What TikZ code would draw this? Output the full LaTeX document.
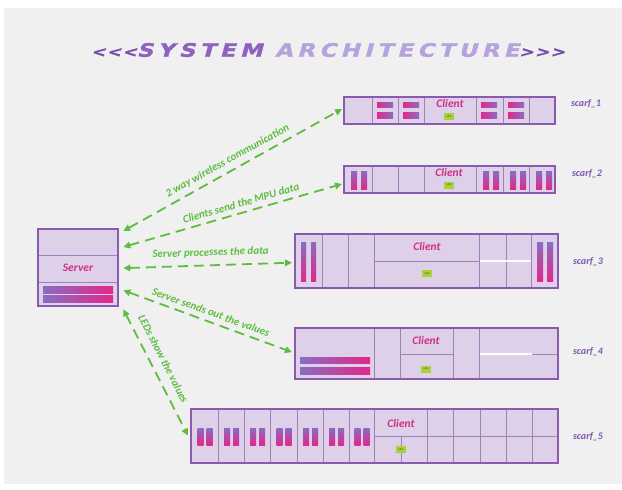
\documentclass[tikz,border=0pt]{standalone}
\usepackage{fontspec}
\usepackage{graphicx}
\setmainfont{Carlito}
\newfontfamily\titlefont[LetterSpace=20,FakeBold=1.6,FakeSlant=0.22]{DejaVu Sans Bold}
\usetikzlibrary{arrows.meta,calc}

\definecolor{bgGray}{HTML}{F0F0F0}
\definecolor{boxFill}{HTML}{DED0E8}
\definecolor{boxLine}{HTML}{8A5AAE}
\definecolor{divLine}{HTML}{9C82B9}
\definecolor{barPurple}{HTML}{8A6CC2}
\definecolor{barPink}{HTML}{E2288C}
\definecolor{nameMagenta}{HTML}{D0308A}
\definecolor{linkGreen}{HTML}{5EBD40}
\definecolor{chipGreen}{HTML}{A8D13A}
\definecolor{chipText}{HTML}{4E6418}
\definecolor{scarfText}{HTML}{7B5AAE}
\definecolor{chevron}{HTML}{7A4FB0}
\definecolor{sysText}{HTML}{8E62C0}
\definecolor{archText}{HTML}{B5A2DE}

\begin{document}
\begin{tikzpicture}[x=1pt,y=-1pt,
  unitbox/.style={draw=boxLine, fill=boxFill, line width=1.3pt, inner sep=0pt,
                  anchor=north west, rectangle},
  divider/.style={draw=divLine, line width=0.7pt},
  gap/.style={draw=white, line width=1.6pt},
  vbar/.style={top color=barPurple, bottom color=barPink},
  hbar/.style={left color=barPurple, right color=barPink},
  hbarrev/.style={left color=barPink, right color=barPurple},
  unitname/.style={font=\bfseries\itshape\fontsize{11.5}{13}\selectfont, text=nameMagenta},
  chip/.style={fill=chipGreen, minimum width=10pt, minimum height=7pt, inner sep=0pt,
               font=\bfseries\fontsize{2.4}{2.8}\selectfont, text=chipText},
  scarf/.style={font=\bfseries\itshape\fontsize{10}{12}\selectfont, text=scarfText},
  link/.style={draw=linkGreen, line width=1.8pt, dash pattern=on 10pt off 6pt,
               {Triangle[length=7pt,width=6.5pt]}-{Triangle[length=7pt,width=6.5pt]}},
  linklabel/.style={font=\bfseries\itshape\fontsize{11}{13}\selectfont, text=linkGreen,
                    sloped, above=1.5pt}
]
\useasboundingbox (0,0) rectangle (622,490);
\fill[white] (0,0) rectangle (622,490);
\fill[bgGray] (4,8) rectangle (622,484);

% heading
\node (title) at (328,50) {\scalebox{1.23}[1]{\titlefont\fontsize{18.5}{22}\selectfont
  \color{chevron}{\fontsize{14}{18}\selectfont <\hspace{1pt}<\hspace{1pt}<}\color{sysText}SYSTEM \color{archText}ARCHITECTURE\color{chevron}{\fontsize{14}{18}\selectfont >\hspace{1pt}>\hspace{1pt}>}}};

% ---------------- server ----------------
\node[unitbox, minimum width=80pt, minimum height=77pt] (srv) at (38,229) {};
\draw[divider] (38,255) -- (118,255);
\draw[divider] (38,282) -- (118,282);
\node[unitname] (srvname) at (78,268) {Server};
\shade[hbar] (43,286.5) rectangle (113,293);
\shade[hbar] (43,295.5) rectangle (113,302);
\draw[boxLine, line width=1.3pt] (38,229) rectangle (118,306);

% ---------------- scarf 1 ----------------
\node[unitbox, minimum width=211pt, minimum height=27pt] (c1) at (344,97) {};
\foreach \x in {372,398,424,476,503,529} \draw[divider] (\x,97) -- (\x,124);
\foreach \a in {372,398,476,503} {
  \shade[hbarrev] (\a+5,102) rectangle (\a+21,107.5);
  \shade[hbarrev] (\a+5,112.5) rectangle (\a+21,118);
}
\node[unitname] (c1name) at (450,104) {Client};
\node[chip] (c1chip) at (449,116.5) {MPU};
\draw[boxLine, line width=1.3pt] (344,97) rectangle (555,124);

% ---------------- scarf 2 ----------------
\node[unitbox, minimum width=211pt, minimum height=27pt] (c2) at (344,166) {};
\foreach \x in {372,398,424,476,503,529} \draw[divider] (\x,166) -- (\x,193);
\foreach \a in {344,476,503,529} {
  \shade[vbar] (\a+7,171) rectangle (\a+13,189);
  \shade[vbar] (\a+17,171) rectangle (\a+23,189);
}
\node[unitname] (c2name) at (449,173) {Client};
\node[chip] (c2chip) at (449,185) {MPU};
\draw[boxLine, line width=1.3pt] (344,166) rectangle (555,193);

% ---------------- scarf 3 ----------------
\node[unitbox, minimum width=263pt, minimum height=54pt] (c3) at (295,234) {};
\foreach \x in {322,348,374,479,506,531} \draw[divider] (\x,234) -- (\x,288);
\draw[divider] (374,261) -- (479,261);
\draw[gap] (480,261) -- (531,261);
\shade[vbar] (301,242) rectangle (306,281);
\shade[vbar] (311,242) rectangle (316,281);
\shade[vbar] (537,242) rectangle (543,281);
\shade[vbar] (547,242) rectangle (553,281);
\node[unitname] (c3name) at (427,247) {Client};
\node[chip] (c3chip) at (427,273.5) {MPU};
\draw[boxLine, line width=1.3pt] (295,234) rectangle (558,288);

% ---------------- scarf 4 ----------------
\node[unitbox, minimum width=263pt, minimum height=51pt] (c4) at (295,328) {};
\foreach \x in {374,400,453,479} \draw[divider] (\x,328) -- (\x,379);
\draw[divider] (400,354) -- (453,354);
\draw[divider] (479,354) -- (558,354);
\draw[gap] (480,354) -- (532,354);
\shade[hbar] (300,357) rectangle (370,363.5);
\shade[hbar] (300,367) rectangle (370,374);
\node[unitname] (c4name) at (426,341) {Client};
\node[chip] (c4chip) at (426,369) {MPU};
\draw[boxLine, line width=1.3pt] (295,328) rectangle (558,379);

% ---------------- scarf 5 ----------------
\node[unitbox, minimum width=367pt, minimum height=54pt] (c5) at (191,409) {};
\foreach \x in {218,244,270,297,323,349,374,427,453,480,506,532} \draw[divider] (\x,409) -- (\x,463);
\draw[divider] (374,436) -- (558,436);
\draw[divider] (401,436) -- (401,463);
\foreach \a/\b in {191/218,218/244,244/270,270/297,297/323,323/349,349/374} {
  \shade[vbar] ({(\a+\b)/2-7},428) rectangle ({(\a+\b)/2-1},445);
  \shade[vbar] ({(\a+\b)/2+2},428) rectangle ({(\a+\b)/2+8},445);
}
\node[unitname] (c5name) at (401,424) {Client};
\node[chip] (c5chip) at (401,449.5) {MPU};
\draw[boxLine, line width=1.3pt] (191,409) rectangle (558,463);

% scarf names
\node[scarf] (s1) at (586,104) {scarf\_1};
\node[scarf] (s2) at (587,174) {scarf\_2};
\node[scarf] (s3) at (588,262) {scarf\_3};
\node[scarf] (s4) at (588,352) {scarf\_4};
\node[scarf] (s5) at (588,437) {scarf\_5};

% ---------------- links ----------------
\draw[link] ([shift={(4,2)}]srv.north east) -- node[linklabel, pos=0.5] {2 way wireless communication} ([shift={(-2,12)}]c1.north west);
\draw[link] ([shift={(4,18)}]srv.north east) -- node[linklabel, pos=0.55] {Clients send the MPU data} ([shift={(-2,18)}]c2.north west);
\draw[link] ([shift={(4,0)}]srv.east) -- node[linklabel, pos=0.52, above=2pt] {Server processes the data} ([shift={(-3,1)}]c3.west);
\draw[link] ([shift={(4,-17)}]srv.south east) -- node[linklabel, pos=0.5] {Server sends out the values} ([shift={(-3,-2)}]c4.west);
\draw[link] ([shift={(4,2)}]srv.south east) -- node[linklabel, pos=0.44, above=3.5pt] {LEDs show the values} ([shift={(-3,-1)}]c5.west);
\end{tikzpicture}
\end{document}
